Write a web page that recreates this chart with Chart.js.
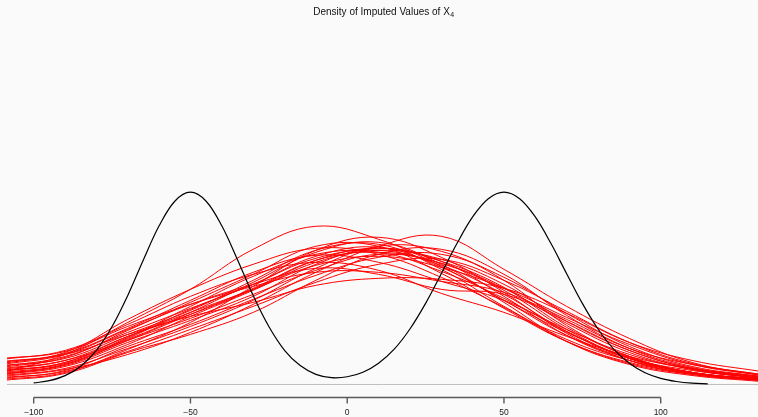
<!DOCTYPE html>
<html>
<head>
<meta charset="utf-8">
<script src="https://cdn.jsdelivr.net/npm/chart.js@4.4.1/dist/chart.umd.min.js"></script>
<style>
  html, body { margin: 0; padding: 0; background: #fafafa; }
  #c { display: block; }
</style>
</head>
<body>
<canvas id="c" width="758" height="417"></canvas>
<script>
// ---- data ----
const titleMain = "Density of Imputed Values of X";
const titleSub = "4";
const tickValues = [-100, -50, 0, 50, 100];

// observed data density (black)
const obsX = [-100, -95, -90, -85, -80, -75, -70, -65, -60, -55, -50, -45, -40, -35, -30, -25, -20, -15, -10, -5, 0, 5, 10, 15, 20, 25, 30, 35, 40, 45, 50, 55, 60, 65, 70, 75, 80, 85, 90, 95, 100, 105, 110, 115];
const obsY = [0.00011, 0.00027, 0.00062, 0.00128, 0.00238, 0.00405, 0.00622, 0.00872, 0.01109, 0.01281, 0.01344, 0.01281, 0.01109, 0.00872, 0.00622, 0.00405, 0.00239, 0.00132, 0.00071, 0.00048, 0.00054, 0.00086, 0.00149, 0.00247, 0.00388, 0.00567, 0.00774, 0.00985, 0.01171, 0.01298, 0.01344, 0.01298, 0.01171, 0.00985, 0.00774, 0.00567, 0.00388, 0.00247, 0.00148, 0.00082, 0.00043, 0.00021, 0.00009, 0.00004];

// imputed data densities (red), evaluated at impX
const impX = [-110, -90, -70, -50, -30, -10, 10, 30, 50, 70, 90, 110, 132];
const imp01 = [0.00084, 0.0021, 0.00434, 0.00665, 0.00945, 0.01106, 0.01015, 0.00826, 0.00588, 0.00364, 0.00189, 0.00084, 0.00035];
const imp02 = [0.00056, 0.00105, 0.0021, 0.00364, 0.0056, 0.00784, 0.00966, 0.01036, 0.00805, 0.00546, 0.00322, 0.00154, 0.00063];
const imp03 = [0.0014, 0.0021, 0.00385, 0.0056, 0.007, 0.00812, 0.0077, 0.00665, 0.0063, 0.00441, 0.00238, 0.00112, 0.00049];
const imp04 = [0.00175, 0.00238, 0.0042, 0.00616, 0.0077, 0.00854, 0.00798, 0.00637, 0.00504, 0.00336, 0.00196, 0.00112, 0.00056];
const imp05 = [0.00035, 0.00084, 0.00245, 0.00434, 0.00686, 0.00938, 0.01029, 0.00889, 0.00644, 0.00357, 0.00168, 0.0007, 0.00028];
const imp06 = [0.00098, 0.00154, 0.00336, 0.0049, 0.00665, 0.00868, 0.00952, 0.00861, 0.00679, 0.00399, 0.00196, 0.00084, 0.00035];
const imp07 = [0.00126, 0.00196, 0.00364, 0.00532, 0.007, 0.00896, 0.00959, 0.00819, 0.00588, 0.00343, 0.00182, 0.00098, 0.00042];
const imp08 = [0.0007, 0.00126, 0.0028, 0.00476, 0.00658, 0.00854, 0.00938, 0.00875, 0.007, 0.00441, 0.00238, 0.00112, 0.00049];
const imp09 = [0.00154, 0.00224, 0.00455, 0.00665, 0.0084, 0.00952, 0.0091, 0.00749, 0.00539, 0.00301, 0.00147, 0.0007, 0.00028];
const imp10 = [0.00112, 0.00168, 0.00315, 0.00504, 0.00714, 0.00924, 0.00994, 0.0084, 0.00574, 0.00301, 0.0014, 0.00063, 0.00021];
const imp11 = [0.00042, 0.00098, 0.00266, 0.0042, 0.00595, 0.00763, 0.00889, 0.0091, 0.00749, 0.00497, 0.00266, 0.00126, 0.00056];
const imp12 = [0.00084, 0.0014, 0.00308, 0.00462, 0.0063, 0.00798, 0.0091, 0.00847, 0.00672, 0.00427, 0.00224, 0.00105, 0.00042];
const imp13 = [0.00182, 0.00231, 0.00406, 0.0056, 0.00686, 0.00784, 0.00784, 0.00721, 0.00644, 0.00455, 0.00252, 0.0014, 0.0007];
const imp14 = [0.00063, 0.00112, 0.00252, 0.00406, 0.00588, 0.00812, 0.00966, 0.00931, 0.00728, 0.00413, 0.00196, 0.00084, 0.00035];
const imp15 = [0.00133, 0.00182, 0.0035, 0.00518, 0.00728, 0.00938, 0.0098, 0.00805, 0.00546, 0.00315, 0.00168, 0.00084, 0.00035];
const imp16 = [0.00091, 0.00154, 0.00329, 0.00546, 0.00756, 0.0091, 0.00924, 0.00791, 0.00602, 0.00371, 0.00182, 0.00084, 0.00035];
const imp17 = [0.00028, 0.00077, 0.00224, 0.0035, 0.00504, 0.00728, 0.0091, 0.00945, 0.0077, 0.00483, 0.00252, 0.00119, 0.00049];
const imp18 = [0.00147, 0.00217, 0.00392, 0.00588, 0.00784, 0.00903, 0.00854, 0.00721, 0.00588, 0.00385, 0.0021, 0.00105, 0.00042];
const imp19 = [0.00105, 0.00168, 0.00336, 0.00504, 0.00665, 0.00833, 0.00896, 0.00819, 0.00672, 0.00469, 0.0028, 0.0014, 0.00063];
const imp20 = [0.00077, 0.00133, 0.00294, 0.00448, 0.00616, 0.0084, 0.00952, 0.00861, 0.00616, 0.00343, 0.00168, 0.00077, 0.00028];
const imp21 = [0.00119, 0.00189, 0.00378, 0.00574, 0.0077, 0.00966, 0.00966, 0.00777, 0.00532, 0.00301, 0.00154, 0.00077, 0.00035];
const imp22 = [0.00049, 0.00091, 0.00231, 0.00385, 0.00546, 0.00714, 0.0084, 0.00875, 0.00728, 0.00511, 0.00294, 0.00147, 0.0007];
const imp23 = [0.00161, 0.0021, 0.0035, 0.00476, 0.00574, 0.00693, 0.00742, 0.00735, 0.00672, 0.00497, 0.00294, 0.00168, 0.00091];
const imp24 = [0.00098, 0.00147, 0.00322, 0.00525, 0.007, 0.00882, 0.00938, 0.00833, 0.0063, 0.00371, 0.00182, 0.00084, 0.00035];
const imp25 = [0.0007, 0.0014, 0.00308, 0.0049, 0.00672, 0.00868, 0.00924, 0.00847, 0.00658, 0.00385, 0.00182, 0.00084, 0.00035];
const imputed = [imp01, imp02, imp03, imp04, imp05, imp06, imp07, imp08, imp09, imp10, imp11, imp12, imp13,
                 imp14, imp15, imp16, imp17, imp18, imp19, imp20, imp21, imp22, imp23, imp24, imp25];

// ---- build datasets ----
const datasets = [];
datasets.push({
  label: 'observed',
  data: obsX.map((x, i) => ({ x: x, y: obsY[i] })),
  borderColor: '#000000',
  borderWidth: 1.2,
  pointRadius: 0,
  tension: 0.35,
  fill: false
});
imputed.forEach((arr, k) => {
  datasets.push({
    label: 'imputed ' + (k + 1),
    data: impX.map((x, i) => ({ x: x, y: arr[i] })),
    borderColor: '#ff0000',
    borderWidth: 1,
    pointRadius: 0,
    tension: 0.4,
    fill: false
  });
});

const FONT = '"Liberation Sans", Arial, Helvetica, sans-serif';

const decorPlugin = {
  id: 'decor',
  beforeDraw(chart) {
    const ctx = chart.ctx;
    ctx.save();
    ctx.fillStyle = '#fafafa';
    ctx.fillRect(0, 0, chart.width, chart.height);
    ctx.restore();
  },
  beforeDatasetsDraw(chart) {
    const ctx = chart.ctx, a = chart.chartArea;
    const y0 = chart.scales.y.getPixelForValue(0);
    ctx.save();
    ctx.strokeStyle = '#bebebe';
    ctx.lineWidth = 1;
    ctx.beginPath();
    ctx.moveTo(a.left, y0);
    ctx.lineTo(a.right, y0);
    ctx.stroke();
    ctx.restore();
  },
  afterDraw(chart) {
    const ctx = chart.ctx, a = chart.chartArea, xs = chart.scales.x;
    ctx.save();
    const yAx = a.bottom;
    ctx.strokeStyle = '#5a5a5a';
    ctx.lineWidth = 1.4;
    ctx.beginPath();
    ctx.moveTo(xs.getPixelForValue(tickValues[0]), yAx);
    ctx.lineTo(xs.getPixelForValue(tickValues[tickValues.length - 1]), yAx);
    tickValues.forEach(v => {
      const px = xs.getPixelForValue(v);
      ctx.moveTo(px, yAx);
      ctx.lineTo(px, yAx + 6);
    });
    ctx.stroke();
    ctx.fillStyle = '#111';
    ctx.textBaseline = 'alphabetic';
    ctx.textAlign = 'left';
    ctx.font = '10px ' + FONT;
    const w1 = ctx.measureText(titleMain).width;
    ctx.font = '7px ' + FONT;
    const w2 = ctx.measureText(titleSub).width;
    const cx = (a.left + a.right) / 2 + 1;
    const x0 = cx - (w1 + w2) / 2;
    ctx.font = '10px ' + FONT;
    ctx.fillText(titleMain, x0, 14.7);
    ctx.font = '7px ' + FONT;
    ctx.fillText(titleSub, x0 + w1 + 0.3, 16.8);
    ctx.restore();
  }
};

new Chart(document.getElementById('c'), {
  type: 'line',
  data: { datasets: datasets },
  options: {
    responsive: false,
    devicePixelRatio: 1,
    animation: false,
    events: [],
    layout: { padding: { left: 7, right: 0, top: 30, bottom: 0 } },
    plugins: { legend: { display: false }, title: { display: false }, tooltip: { enabled: false } },
    scales: {
      x: {
        type: 'linear',
        min: -108.52,
        max: 131.03,
        afterBuildTicks(scale) { scale.ticks = tickValues.map(v => ({ value: v })); },
        grid: { display: true, drawOnChartArea: false, drawTicks: true, tickLength: 11, color: 'rgba(0,0,0,0)' },
        border: { display: false },
        ticks: {
          padding: 0,
          autoSkip: false,
          maxRotation: 0,
          color: '#222',
          font: { family: FONT, size: 8.5, lineHeight: 1 },
          callback: v => (v < 0 ? '\u2212' + Math.abs(v) : String(v))
        }
      },
      y: {
        type: 'linear',
        display: false,
        min: -0.00091,
        max: 0.02478
      }
    }
  },
  plugins: [decorPlugin]
});
</script>
</body>
</html>
